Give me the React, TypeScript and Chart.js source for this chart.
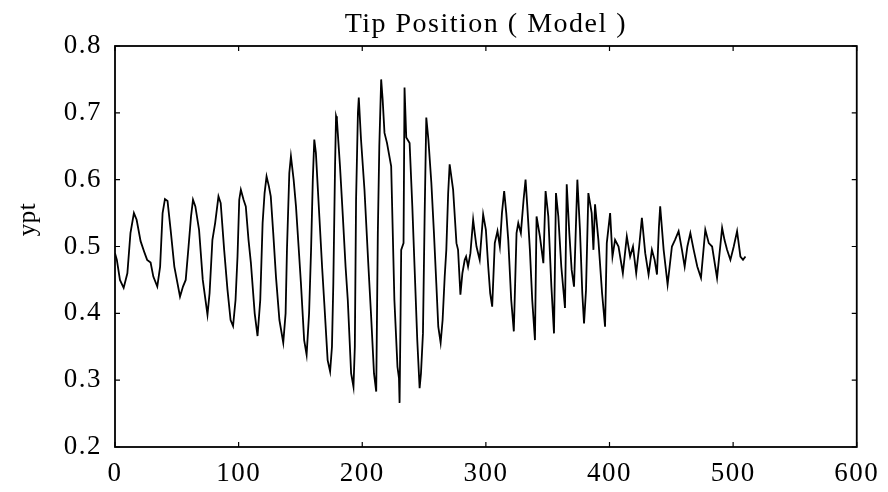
import React, { useEffect, useRef } from 'react';
import { Chart, registerables } from 'chart.js';

Chart.register(...registerables);

const chartTitle = 'Tip Position ( Model )';
const yAxisLabel = 'ypt';
const xTickValues = [0, 100, 200, 300, 400, 500, 600];
const yTickValues = [0.2, 0.3, 0.4, 0.5, 0.6, 0.7, 0.8];

const timeSteps = [
  0, 1.5, 4, 7, 10, 12.5, 15.3, 17.5, 20.7, 24, 26, 28.8, 31, 34.2, 36.5, 38.5, 40.4, 42.5, 45, 48,
  52.6, 55, 57.2, 59.5, 61.5, 63.1, 65, 68, 71, 74.8, 76.5, 78.8, 81, 83.7, 85.5, 88.3, 91, 93.5, 95.5, 97.5,
  99.1, 100.5, 101.8, 104, 105.8, 108, 109.9, 113, 115.3, 117.5, 119.4, 121, 122.6, 124.5, 126, 128, 130.2, 133, 136.1, 138,
  139.1, 141, 142.3, 144.5, 146.4, 148.5, 150.4, 153, 155, 157, 158.6, 160, 161.2, 162.5, 165.3, 167.5, 169.3, 172, 174, 175.5,
  176.6, 178, 178.8, 179.5, 180.2, 182, 184.3, 186.5, 188.3, 191, 192.9, 194, 195, 196.5, 197.2, 199, 201.8, 205, 207.2, 209.5,
  211.3, 212.6, 213.8, 215.3, 216.5, 218, 220, 223.4, 226, 228.5, 229.7, 230.2, 231, 231.5, 233.4, 234.2, 235.6, 238.3, 240.5, 242.3,
  244.5, 246.4, 247.5, 249.1, 250.5, 251.8, 253.5, 255.9, 258, 259.9, 261.5, 263.4, 265, 266.7, 268, 269.5, 270.7, 273.5, 276.2, 277.5,
  279.4, 281, 282.9, 284, 285.6, 287.5, 289.7, 291, 292.4, 295, 297.8, 300, 301.9, 303.5, 305.1, 307.2, 309.4, 311.3, 313, 314.8,
  316.5, 318.1, 320.5, 322.6, 324.8, 326.2, 328.3, 330.5, 332.1, 333.5, 335.6, 337.5, 339.7, 341, 343.7, 346.5, 348.3, 350.5, 353, 355.1,
  356.7, 358.6, 361, 364, 365.4, 367.5, 369.4, 371.3, 374, 376.1, 378, 379.4, 381, 382.9, 385.6, 387, 388.3, 391, 394, 396.4,
  397.8, 400.5, 402.4, 404.5, 407.3, 410.8, 414, 416.7, 419, 421.6, 424, 426.2, 428.9, 431.6, 434.3, 436.5, 438.4, 440, 441, 443.8,
  447, 450.5, 453, 455.9, 458.6, 460.8, 463, 465.4, 468.1, 471, 474, 477.5, 480.3, 483, 487, 491.1, 493, 495.1, 497.8, 500.5,
  503.2, 505.9, 508, 510
];

const tipPosition = [
  0.49, 0.48, 0.45, 0.438, 0.46, 0.52, 0.55, 0.54, 0.508, 0.49, 0.48, 0.476, 0.455, 0.44, 0.47, 0.55, 0.571, 0.568, 0.525, 0.47,
  0.425, 0.44, 0.45, 0.5, 0.545, 0.57, 0.56, 0.525, 0.45, 0.398, 0.43, 0.51, 0.535, 0.575, 0.565, 0.495, 0.435, 0.39, 0.381, 0.42,
  0.485, 0.57, 0.585, 0.57, 0.56, 0.51, 0.476, 0.4, 0.366, 0.42, 0.535, 0.58, 0.605, 0.59, 0.575, 0.52, 0.455, 0.39, 0.356, 0.4,
  0.495, 0.61, 0.635, 0.6, 0.56, 0.5, 0.445, 0.36, 0.338, 0.4, 0.495, 0.6, 0.66, 0.64, 0.545, 0.47, 0.415, 0.33, 0.313, 0.35,
  0.445, 0.62, 0.695, 0.69, 0.67, 0.62, 0.545, 0.47, 0.42, 0.31, 0.29, 0.35, 0.57, 0.7, 0.723, 0.66, 0.585, 0.47, 0.395, 0.31,
  0.283, 0.52, 0.65, 0.75, 0.72, 0.67, 0.655, 0.62, 0.42, 0.32, 0.303, 0.266, 0.4, 0.495, 0.505, 0.738, 0.663, 0.655, 0.56, 0.47,
  0.36, 0.288, 0.31, 0.37, 0.55, 0.693, 0.66, 0.595, 0.52, 0.445, 0.38, 0.356, 0.39, 0.455, 0.495, 0.58, 0.623, 0.585, 0.505, 0.495,
  0.428, 0.46, 0.48, 0.485, 0.47, 0.49, 0.54, 0.52, 0.5, 0.48, 0.548, 0.525, 0.47, 0.43, 0.41, 0.505, 0.523, 0.5, 0.55, 0.583,
  0.55, 0.51, 0.42, 0.373, 0.52, 0.535, 0.52, 0.57, 0.6, 0.56, 0.495, 0.42, 0.36, 0.545, 0.515, 0.475, 0.583, 0.545, 0.44, 0.37,
  0.58, 0.545, 0.47, 0.408, 0.593, 0.52, 0.465, 0.44, 0.6, 0.525, 0.43, 0.385, 0.435, 0.58, 0.55, 0.495, 0.563, 0.51, 0.43, 0.38,
  0.505, 0.55, 0.485, 0.51, 0.5, 0.46, 0.515, 0.485, 0.5, 0.46, 0.5, 0.543, 0.49, 0.458, 0.495, 0.48, 0.458, 0.53, 0.56, 0.495,
  0.443, 0.5, 0.51, 0.523, 0.495, 0.47, 0.5, 0.52, 0.495, 0.47, 0.453, 0.525, 0.505, 0.5, 0.453, 0.528, 0.51, 0.495, 0.48, 0.5,
  0.523, 0.485, 0.48, 0.485
];

const serif = "'Liberation Serif', 'DejaVu Serif', 'Times New Roman', serif";

const spacingPlugin = {
  id: 'letterSpacing',
  beforeDraw(chart: any) {
    try {
      (chart.ctx as any).letterSpacing = '1.5px';
    } catch (e) {
      /* ignore */
    }
  },
};

const framePlugin = {
  id: 'boxFrame',
  afterDatasetsDraw(chart: any) {
    const { ctx, chartArea, scales } = chart;
    const { left, right, top, bottom } = chartArea;
    const x = scales.x;
    const y = scales.y;
    ctx.save();
    ctx.strokeStyle = '#000';
    ctx.lineWidth = 1.8;
    ctx.strokeRect(left, top, right - left, bottom - top);
    ctx.lineWidth = 1.2;
    const len = 5;
    ctx.beginPath();
    for (const v of xTickValues) {
      const px = x.getPixelForValue(v);
      ctx.moveTo(px, top);
      ctx.lineTo(px, top + len);
      ctx.moveTo(px, bottom);
      ctx.lineTo(px, bottom - len);
    }
    for (const v of yTickValues) {
      const py = y.getPixelForValue(v);
      ctx.moveTo(left, py);
      ctx.lineTo(left + len, py);
      ctx.moveTo(right, py);
      ctx.lineTo(right - len, py);
    }
    ctx.stroke();
    ctx.restore();
  },
  afterDraw(chart: any) {
    const { ctx, chartArea } = chart;
    const yc = (chartArea.top + chartArea.bottom) / 2 - 27;
    ctx.save();
    try {
      (ctx as any).letterSpacing = '0.5px';
    } catch (e) {
      /* ignore */
    }
    ctx.translate(28, yc);
    ctx.rotate(-Math.PI / 2);
    ctx.fillStyle = '#000';
    ctx.font = `25px ${serif}`;
    ctx.textAlign = 'center';
    ctx.textBaseline = 'middle';
    ctx.fillText(yAxisLabel, 0, 0);
    ctx.restore();
  },
};

export default function App() {
  const canvasRef = useRef<HTMLCanvasElement | null>(null);

  useEffect(() => {
    if (!canvasRef.current) return;
    const points = timeSteps.map((t, i) => ({ x: t, y: tipPosition[i] }));
    const chart = new Chart(canvasRef.current, {
      type: 'line',
      data: {
        datasets: [
          {
            label: yAxisLabel,
            data: points,
            borderColor: '#000',
            borderWidth: 1.8,
            pointRadius: 0,
            tension: 0,
            fill: false,
          },
        ],
      },
      options: {
        responsive: false,
        animation: false,
        events: [],
        layout: { padding: { left: 0, right: 30, top: 0, bottom: 0 } },
        plugins: {
          legend: { display: false },
          tooltip: { enabled: false },
          title: {
            display: true,
            fullSize: false,
            text: chartTitle,
            color: '#000',
            font: { family: serif, size: 28, weight: 'normal' },
            padding: { top: 8, bottom: 4.4 },
          },
        },
        scales: {
          x: {
            type: 'linear',
            min: 0,
            max: 600,
            afterFit: (scale: any) => {
              scale.height = 45;
            },
            afterBuildTicks: (scale: any) => {
              scale.ticks = xTickValues.map((v) => ({ value: v }));
            },
            grid: { display: false, drawTicks: false },
            border: { display: false },
            ticks: {
              color: '#000',
              padding: 11,
              maxRotation: 0,
              autoSkip: false,
              font: { family: serif, size: 27 },
              callback: (v: any) => String(v),
            },
          },
          y: {
            type: 'linear',
            min: 0.2,
            max: 0.8,
            afterFit: (scale: any) => {
              scale.width = 115;
            },
            afterBuildTicks: (scale: any) => {
              scale.ticks = yTickValues.map((v) => ({ value: v }));
            },
            grid: { display: false, drawTicks: false },
            border: { display: false },
            ticks: {
              color: '#000',
              padding: 13,
              autoSkip: false,
              font: { family: serif, size: 27 },
              callback: (v: any) => Number(v).toFixed(1),
            },
          },
        },
      },
      plugins: [spacingPlugin, framePlugin],
    });
    return () => chart.destroy();
  }, []);

  return (
    <div style={{ position: 'fixed', left: 0, top: 0, width: 888, height: 492, background: '#fff' }}>
      <canvas ref={canvasRef} width={888} height={492} style={{ width: 888, height: 492 }} />
    </div>
  );
}
